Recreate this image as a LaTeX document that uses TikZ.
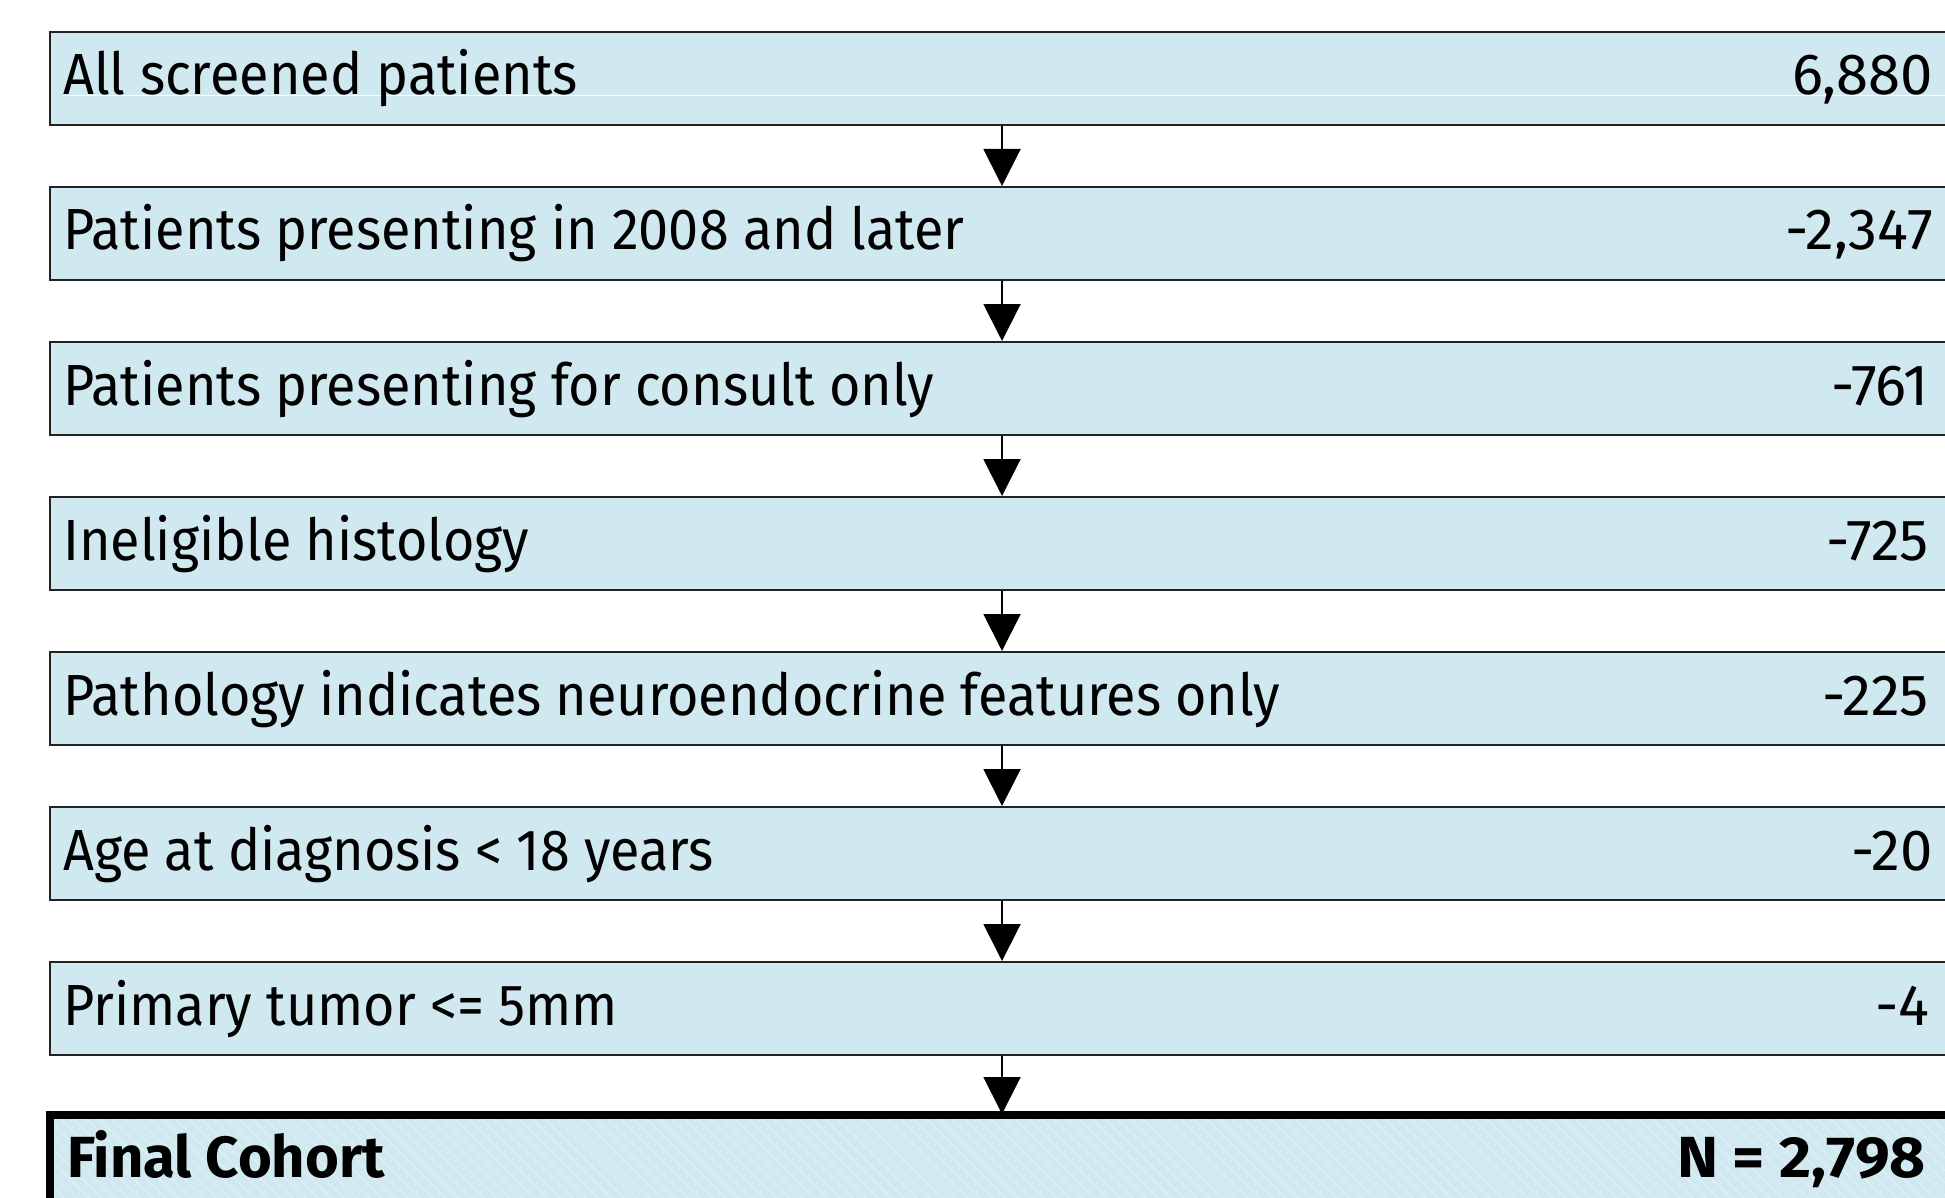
\documentclass[tikz,border=0pt]{standalone}
\usepackage{fontspec}
\setmainfont{Fira Sans}
\newfontfamily\lblfont[FakeStretch=0.93]{Fira Sans}
\newfontfamily\widefont[FakeStretch=1.07]{Fira Sans}
\usetikzlibrary{arrows.meta,patterns.meta}
\definecolor{boxblue}{RGB}{208,232,239}
\definecolor{hatchblue}{RGB}{224,240,245}
\definecolor{edgegray}{RGB}{35,35,35}
\tikzset{
  stagebox/.style={draw=edgegray, line width=1.8pt, fill=boxblue, rectangle, inner sep=0pt,
    minimum width=1915pt, minimum height=93pt, anchor=north west},
  finalbox/.style={draw=black, line width=8pt, rectangle, inner sep=0pt,
    minimum width=1915pt, minimum height=93pt, anchor=north west,
    preaction={fill=boxblue},
    pattern={Lines[angle=-45,distance=9pt,line width=1.2pt]}, pattern color=hatchblue},
  lbl/.style={inner sep=0pt, anchor=base west, font=\lblfont\fontsize{58}{60}\selectfont},
  num/.style={inner sep=0pt, anchor=base east, font=\fontsize{58}{60}\selectfont},
  flowarrow/.style={draw=black, line width=2pt, -{Triangle[width=37pt,length=37pt]}},
}
\begin{document}
\begin{tikzpicture}[x=1pt,y=1pt]
\useasboundingbox (0,0) rectangle (1945,-1198);
\coordinate (ax) at (1002,0);
% boxes
\node[stagebox] (b1) at (49,-31) {};
\node[stagebox] (b2) at (49,-186) {};
\node[stagebox] (b3) at (49,-341) {};
\node[stagebox] (b4) at (49,-496) {};
\node[stagebox] (b5) at (49,-651) {};
\node[stagebox] (b6) at (49,-806) {};
\node[stagebox] (b7) at (49,-961) {};
\node[finalbox] (b8) at (49.5,-1114) {};
% white artefact line in first box
\coordinate (w1) at ([xshift=14pt,yshift=-64.3pt]b1.north west);
\draw[white, line width=1pt] (w1) -- (w1 -| b1.east);
% labels
\node[lbl] (t1) at ([xshift=14pt,yshift=-64pt]b1.north west) {All screened patients};
\node[lbl] (t2) at ([xshift=14pt,yshift=-64pt]b2.north west) {Patients presenting in 2008 and later};
\node[lbl] (t3) at ([xshift=14pt,yshift=-64pt]b3.north west) {Patients presenting for consult only};
\node[lbl] (t4) at ([xshift=14pt,yshift=-64pt]b4.north west) {Ineligible histology};
\node[lbl] (t5) at ([xshift=14pt,yshift=-64pt]b5.north west) {Pathology indicates neuroendocrine features only};
\node[lbl] (t6) at ([xshift=14pt,yshift=-64pt]b6.north west) {Age at diagnosis < 18 years};
\node[lbl] (t7) at ([xshift=14pt,yshift=-64pt]b7.north west) {Primary tumor <= 5mm};
\node[lbl, font=\fontsize{58}{60}\selectfont\bfseries] (t8) at ([xshift=17.5pt,yshift=-63pt]b8.north west) {Final Cohort};
% numbers
\node[num] (n1) at ([xshift=1884pt,yshift=-64pt]b1.north west) {6,880};
\node[num] (n2) at ([xshift=1884pt,yshift=-64pt]b2.north west) {-2,347};
\node[num] (n3) at ([xshift=1880pt,yshift=-64pt]b3.north west) {-761};
\node[num] (n4) at ([xshift=1880pt,yshift=-64pt]b4.north west) {-725};
\node[num] (n5) at ([xshift=1880pt,yshift=-64pt]b5.north west) {-225};
\node[num] (n6) at ([xshift=1884pt,yshift=-64pt]b6.north west) {-20};
\node[num] (n7) at ([xshift=1880pt,yshift=-64pt]b7.north west) {-4};
\node[num, font=\widefont\fontsize{58}{60}\selectfont\bfseries] (n8) at ([xshift=1876.5pt,yshift=-63pt]b8.north west) {N = 2,798};
% arrows
\draw[flowarrow] (b1.south -| ax) -- (b2.north -| ax);
\draw[flowarrow] (b2.south -| ax) -- (b3.north -| ax);
\draw[flowarrow] (b3.south -| ax) -- (b4.north -| ax);
\draw[flowarrow] (b4.south -| ax) -- (b5.north -| ax);
\draw[flowarrow] (b5.south -| ax) -- (b6.north -| ax);
\draw[flowarrow] (b6.south -| ax) -- (b7.north -| ax);
\draw[flowarrow] (b7.south -| ax) -- (b8.north -| ax);
\end{tikzpicture}
\end{document}
